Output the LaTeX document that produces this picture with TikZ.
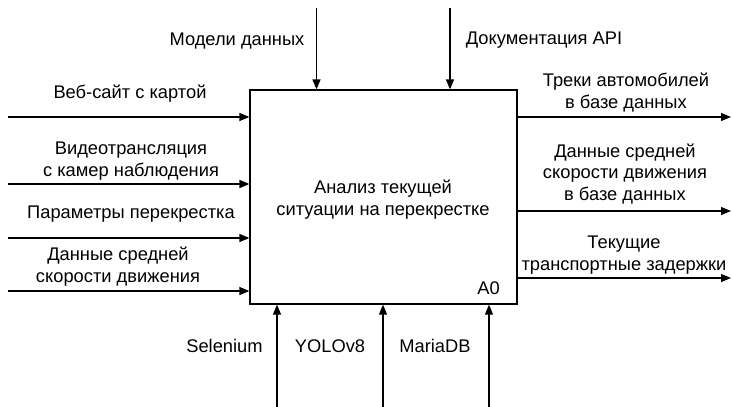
\documentclass[tikz,border=0pt]{standalone}
\usepackage{fontspec}
\setmainfont{Liberation Sans}
\usetikzlibrary{arrows.meta}
\begin{document}
\begin{tikzpicture}[x=1pt,y=-1pt,
  arr/.style={draw=black, line width=1.2pt, -{Triangle[length=10pt,width=8pt]}},
  lbl/.style={font=\fontsize{18.3}{21.5}\selectfont, align=center, inner sep=0pt, anchor=base}]
\useasboundingbox (0,0) rectangle (732,407);
\node[draw, line width=1.2pt, minimum width=267pt, minimum height=214pt, inner sep=0pt] (box) at (383.5,197) {};
\node[lbl] (title) at (383,215) {Анализ текущей\\ситуации на перекрестке};
\node[lbl, anchor=base east] (a0) at (500,294) {A0};
% controls
\coordinate (c1) at (316.5,8);
\coordinate (c2) at (450,8);
\draw[arr] (c1) -- (c1 |- box.north);
\draw[arr] (c2) -- (c2 |- box.north);
\node[lbl] (lc1) at (237,45) {Модели данных};
\node[lbl] (lc2) at (544,44) {Документация API};
% inputs
\coordinate (i1) at (8,117);
\coordinate (i2) at (8,184);
\coordinate (i3) at (8,238);
\coordinate (i4) at (8,291);
\foreach \i in {i1,i2,i3,i4} \draw[arr] (\i) -- (\i -| box.west);
\node[lbl] (li1) at (130,98) {Веб-сайт с картой};
\node[lbl] (li2) at (131,176) {Видеотрансляция\\с камер наблюдения};
\node[lbl] (li3) at (131,218) {Параметры перекрестка};
\node[lbl] (li4) at (118,282) {Данные средней\\скорости движения};
% outputs
\coordinate (o1) at (731,117);
\coordinate (o2) at (731,211);
\coordinate (o3) at (731,278);
\foreach \o in {o1,o2,o3} \draw[arr] (box.east |- \o) -- (\o);
\node[lbl] (lo1) at (626,108) {Треки автомобилей\\в базе данных};
\node[lbl] (lo2) at (625,200) {Данные средней\\скорости движения\\в базе данных};
\node[lbl] (lo3) at (624,270) {Текущие\\транспортные задержки};
% mechanisms
\coordinate (m1) at (277,409);
\coordinate (m2) at (383,409);
\coordinate (m3) at (489,409);
\foreach \m in {m1,m2,m3} \draw[arr] (\m) -- (\m |- box.south);
\node[lbl] (lm1) at (224.5,352) {Selenium};
\node[lbl] (lm2) at (330,352) {YOLOv8};
\node[lbl] (lm3) at (435,352) {MariaDB};
\end{tikzpicture}
\end{document}
